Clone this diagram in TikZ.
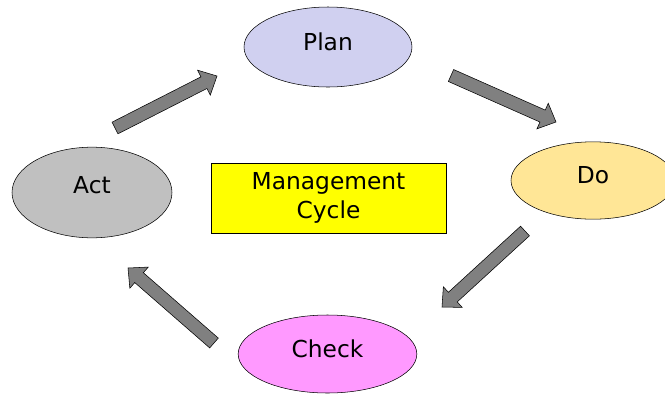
\documentclass[tikz,border=0pt]{standalone}
\usepackage{fontspec}
\setmainfont{DejaVu Sans}
\usepackage{tikz}
\usetikzlibrary{shapes,calc}

\definecolor{planblue}{RGB}{208,208,240}
\definecolor{actgray}{RGB}{192,192,192}
\definecolor{doyellow}{RGB}{255,230,150}
\definecolor{checkpink}{RGB}{255,153,255}
\definecolor{boxyellow}{RGB}{255,255,0}
\definecolor{arrowgray}{RGB}{128,128,128}

% block arrow from #1 to #2
\newcommand{\fatarrow}[2]{%
	\coordinate (hb) at ($(#2)!11pt!(#1)$);
	\draw[fatarrow] ($(#1)!4.9pt!90:(#2)$) -- ($(hb)!4.9pt!90:(#2)$) -- ($(hb)!10.5pt!90:(#2)$) -- (#2)
		-- ($(hb)!10.5pt!-90:(#2)$) -- ($(hb)!4.9pt!-90:(#2)$) -- ($(#1)!4.9pt!-90:(#2)$) -- cycle;
}

\begin{document}
\begin{tikzpicture}[x=0.75pt, y=-0.75pt, font=\fontsize{17.5}{22}\selectfont,
	phase/.style={ellipse, draw=black, thin, text depth=8pt},
	fatarrow/.style={draw=black, thin, fill=arrowgray, line join=miter}]
	\useasboundingbox (0,0) rectangle (665,394);
	% phases
	\node[phase, fill=planblue, minimum width=126pt, minimum height=60pt] (plan) at (328,47) {Plan};
	\node[phase, fill=doyellow, minimum width=123pt, minimum height=58pt] (do) at (593,180.5) {Do};
	\node[phase, fill=checkpink, minimum width=134pt, minimum height=58.5pt] (check) at (327.5,354) {Check};
	\node[phase, fill=actgray, minimum width=120pt, minimum height=68pt, text depth=12pt] (act) at (92,192.5) {Act};
	% centre box
	\node[draw=black, thin, fill=boxyellow, align=center, minimum width=176pt, minimum height=52.5pt] (cycle) at (328.5,198) {Management\\Cycle};
	% arrow ends
	\coordinate (a1) at (115,128);  \coordinate (b1) at (217,76);
	\coordinate (a2) at (451,75.5); \coordinate (b2) at (556,122);
	\coordinate (a3) at (525,231);  \coordinate (b3) at (442,307);
	\coordinate (a4) at (214,343);  \coordinate (b4) at (128,268);
	\foreach \i in {1,...,4} {\fatarrow{a\i}{b\i}}
\end{tikzpicture}
\end{document}
